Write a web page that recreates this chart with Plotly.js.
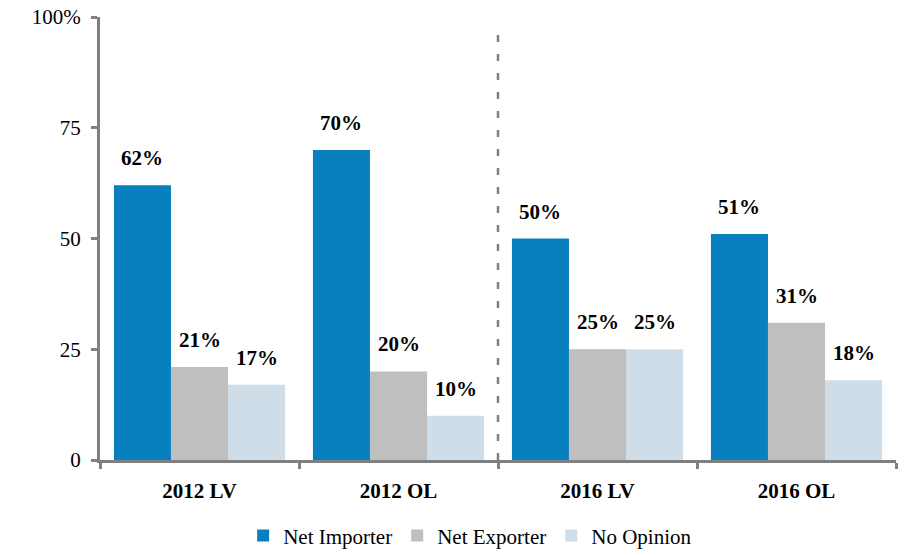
<!DOCTYPE html>
<html>
<head>
<meta charset="utf-8">
<script src="https://cdn.plot.ly/plotly-3.0.1.min.js"></script>
<style>html,body{margin:0;padding:0;background:#fff;}#chart{width:907px;height:555px;}</style>
</head>
<body>
<div id="chart"></div>
<script>
const categories = ["2012 LV", "2012 OL", "2016 LV", "2016 OL"];
const seriesNames = ["Net Importer", "Net Exporter", "No Opinion"];
const netImporter = [62, 70, 50, 51];
const netExporter = [21, 20, 25, 31];
const noOpinion = [17, 10, 25, 18];
const yTickVals = [0, 25, 50, 75, 100];
const yTickText = ["0", "25", "50", "75", "100%"];

const seriesValues = [netImporter, netExporter, noOpinion];
const colors = ["#0880BF", "#BFBFBF", "#CFDDE8"];
const FONT = "Liberation Serif";
const bargap = 0.14;

const traces = seriesValues.map((vals, j) => ({
  type: "bar",
  name: seriesNames[j],
  x: categories,
  y: vals,
  marker: {color: colors[j], line: {width: 0}},
  hoverinfo: "none"
}));

const w = (1 - bargap) / 3;
const annotations = [];
seriesValues.forEach((vals, j) => {
  vals.forEach((v, i) => {
    annotations.push({
      x: i + (j - 1) * w,
      y: v,
      xref: "x", yref: "y",
      text: v + "%",
      showarrow: false,
      yanchor: "bottom",
      yshift: 13,
      font: {family: FONT, size: 21, color: "#000", weight: "bold"}
    });
  });
});

const layout = {
  width: 907, height: 555,
  margin: {l: 100, r: 11, t: 17, b: 95, autoexpand: false},
  paper_bgcolor: "#fff", plot_bgcolor: "#fff",
  font: {family: FONT, size: 21, color: "#000"},
  barmode: "group",
  bargap: bargap,
  bargroupgap: 0,
  showlegend: true,
  legend: {
    orientation: "h", x: 0.465, xanchor: "center", y: -0.125, yanchor: "top",
    font: {family: FONT, size: 21, color: "#000"},
    itemwidth: 30, tracegroupgap: 0
  },
  xaxis: {
    type: "category",
    showline: true, linecolor: "#808080", linewidth: 3,
    ticks: "outside", tickson: "boundaries", ticklen: 6, tickwidth: 3, tickcolor: "#808080",
    tickfont: {family: FONT, size: 21, color: "#000", weight: "bold"},
    ticklabelstandoff: 10,
    showgrid: false, zeroline: false, fixedrange: true
  },
  yaxis: {
    range: [0, 100],
    tickvals: yTickVals, ticktext: yTickText,
    showline: true, linecolor: "#808080", linewidth: 3,
    ticks: "outside", ticklen: 6, tickwidth: 3, tickcolor: "#808080",
    tickfont: {family: FONT, size: 21, color: "#000"},
    ticklabelstandoff: 6,
    showgrid: false, zeroline: false, fixedrange: true
  },
  shapes: [{
    type: "line", xref: "x", yref: "y",
    x0: 1.5, x1: 1.5, y0: 0, y1: 96,
    line: {color: "#808080", width: 2.5, dash: "7px,12px"}
  }],
  annotations: annotations
};

Plotly.newPlot("chart", traces, layout, {displayModeBar: false, staticPlot: true});
</script>
</body>
</html>
